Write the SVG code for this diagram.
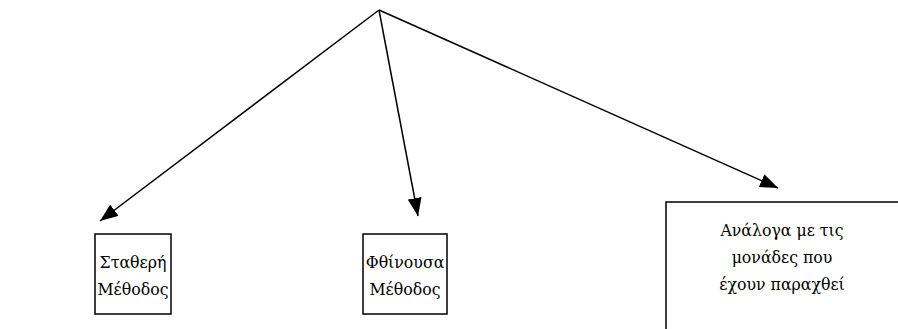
<svg xmlns="http://www.w3.org/2000/svg" width="898" height="329" viewBox="0 0 898 329">
<style>
.box{fill:#fff;stroke:#000;stroke-width:1.5}
.edge{stroke:#000;stroke-width:1.5;fill:none;marker-end:url(#ah)}
.lbl{font-family:'DejaVu Serif Condensed','DejaVu Serif',serif;font-stretch:condensed;font-size:17.5px;fill:#000;text-anchor:middle}
</style>
<defs>
<marker id="ah" viewBox="0 0 18 14" refX="18" refY="7" markerWidth="18" markerHeight="14" markerUnits="userSpaceOnUse" orient="auto">
<path d="M0,0 L18,7 L0,14 z" fill="#000"/>
</marker>
</defs>
<rect width="898" height="329" fill="#fff"/>
<g id="connectors">
<path class="edge" d="M379,10 L100,221"/>
<path class="edge" d="M379,10 L418,216"/>
<path class="edge" d="M379,10 L778,188"/>
</g>
<g id="node-statheri">
<rect class="box" x="95" y="234" width="76" height="80"/>
<text class="lbl" x="133" y="268">Σταθερή</text>
<text class="lbl" x="133" y="295">Μέθοδος</text>
</g>
<g id="node-fthinousa">
<rect class="box" x="363" y="234" width="84" height="80"/>
<text class="lbl" x="405" y="268">Φθίνουσα</text>
<text class="lbl" x="405" y="295">Μέθοδος</text>
</g>
<g id="node-analoga">
<rect class="box" x="666" y="202" width="240" height="140"/>
<text class="lbl" x="782" y="236">Ανάλογα με τις</text>
<text class="lbl" x="782" y="263">μονάδες που</text>
<text class="lbl" x="782" y="290">έχουν παραχθεί</text>
</g>
</svg>
